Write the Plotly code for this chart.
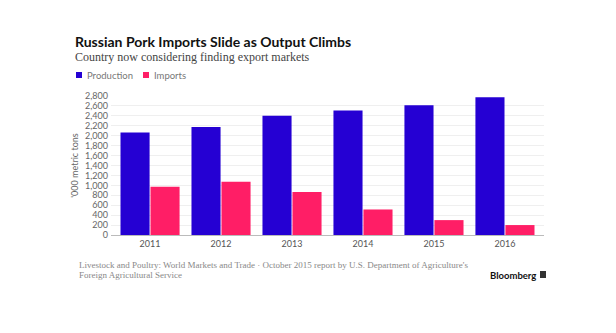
import plotly.graph_objects as go

# Russian pork supply, thousand metric tons
years = ["2011", "2012", "2013", "2014", "2015", "2016"]
production = [2064, 2175, 2400, 2510, 2615, 2775]
imports = [971, 1075, 868, 514, 300, 200]
y_ticks = list(range(0, 2801, 200))
y_tick_labels = [f"{v:,}" for v in y_ticks]

BLUE = "#2500d3"
PINK = "#ff1e66"
SANS = "Lato, Inter, sans-serif"
SERIF = "Liberation Serif, DejaVu Serif, serif"

fig = go.Figure()
fig.add_trace(go.Bar(x=years, y=production, name="Production",
                     marker=dict(color=BLUE, line=dict(width=0))))
fig.add_trace(go.Bar(x=years, y=imports, name="Imports",
                     marker=dict(color=PINK, line=dict(width=0))))

# Plot area in pixels: x 111..544, y 96..235
PX_L, PX_W, PX_B, PX_H = 111, 433, 235, 139


def px(xp):
    return (xp - PX_L) / PX_W


def py(yp):
    return (PX_B - yp) / PX_H


# Header legend: small square keys followed by labels
legend_items = [("Production", BLUE, 76), ("Imports", PINK, 143)]
shapes = []
annotations = []
for label, col, x0 in legend_items:
    shapes.append(dict(type="rect", xref="paper", yref="paper",
                       x0=px(x0), x1=px(x0 + 6), y0=py(78), y1=py(72),
                       fillcolor=col, line=dict(width=0)))
    annotations.append(dict(text=label, xref="paper", yref="paper",
                            x=px(x0 + 9), y=py(75), xanchor="left", yanchor="middle",
                            showarrow=False,
                            font=dict(family=SANS, size=9.5, color="#777")))

annotations += [
    dict(text="<b>Russian Pork Imports Slide as Output Climbs</b>",
         xref="paper", yref="paper", x=px(73), y=py(41),
         xanchor="left", yanchor="middle", showarrow=False,
         font=dict(family=SANS, size=14, color="#111")),
    dict(text="Country now considering finding export markets",
         xref="paper", yref="paper", x=px(73), y=py(57),
         xanchor="left", yanchor="middle", showarrow=False,
         font=dict(family=SERIF, size=12, color="#444")),
    dict(text="Livestock and Poultry: World Markets and Trade · October 2015 report by U.S. Department of Agriculture's",
         xref="paper", yref="paper", x=px(77), y=py(265),
         xanchor="left", yanchor="middle", showarrow=False,
         font=dict(family=SERIF, size=9, color="#888")),
    dict(text="Foreign Agricultural Service",
         xref="paper", yref="paper", x=px(77), y=py(275),
         xanchor="left", yanchor="middle", showarrow=False,
         font=dict(family=SERIF, size=9, color="#888")),
    dict(text="<b>Bloomberg</b>",
         xref="paper", yref="paper", x=px(538), y=py(275),
         xanchor="right", yanchor="middle", showarrow=False,
         font=dict(family=SANS, size=9.5, color="#111")),
]
shapes.append(dict(type="rect", xref="paper", yref="paper",
                   x0=px(540), x1=px(546), y0=py(278), y1=py(271),
                   fillcolor="#333", line=dict(width=0)))

fig.update_layout(
    width=616, height=333,
    margin=dict(l=PX_L, r=616 - PX_L - PX_W, t=PX_B - PX_H, b=333 - PX_B),
    paper_bgcolor="white", plot_bgcolor="white",
    barmode="group", bargap=0.155, bargroupgap=0.03,
    font=dict(family=SANS, size=9, color="#666"),
    showlegend=False,
    xaxis=dict(type="category", range=[-0.55, 5.55], showgrid=False,
               showline=True, linecolor="#bbb", linewidth=1,
               ticks="", tickfont=dict(size=9, color="#555"), fixedrange=True),
    yaxis=dict(range=[0, 2800], tickvals=y_ticks, ticktext=y_tick_labels,
               showgrid=True, gridcolor="#efefef", gridwidth=1, zeroline=False,
               showline=False, ticks="", ticklabelstandoff=2,
               tickfont=dict(size=9, color="#666"),
               title=dict(text="'000 metric tons", font=dict(size=9, color="#666"),
                          standoff=4)),
    annotations=annotations,
    shapes=shapes,
)

fig.write_html("out.html")
